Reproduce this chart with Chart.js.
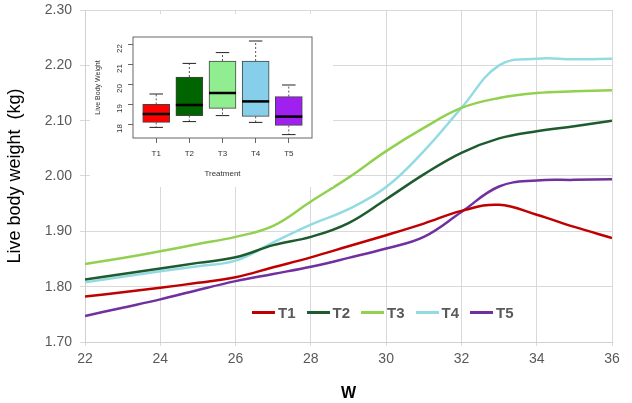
<!DOCTYPE html>
<html lang="en">
<head>
  <meta charset="UTF-8">
  <title>Live body weight by week</title>
  <script src="https://cdn.jsdelivr.net/npm/chart.js"></script>
  <style>
    body {
      margin: 0;
      background: #fff;
      font-family: Arial, "Liberation Sans", sans-serif;
    }
    #wrap {
      position: relative;
      width: 632px;
      height: 403px;
    }
    #inset {
      position: absolute;
      left: 90px;
      top: 14px;
      width: 243px;
      height: 173px;
      background: #fff;
    }
    #legend {
      position: absolute;
      top: 304px;
      left: 252px;
      display: flex;
      gap: 11px;
      font-weight: bold;
      font-size: 15px;
      color: #595959;
    }
    .item { display: flex; align-items: center; }
    .swatch { width: 23px; height: 3px; margin-right: 3px; }
  </style>
</head>
<body>
  <div id="wrap">
    <canvas id="mainChart" width="632" height="403"></canvas>
    <div id="inset"><canvas id="boxChart" width="243" height="173"></canvas></div>
    <div id="legend"></div>
  </div>

  <script>
    // weeks (x axis)
    const weeks = [22, 23, 24, 25, 26, 27, 28, 29, 30, 31, 32, 33, 34, 35, 36];
    const seriesNames = ['T1', 'T2', 'T3', 'T4', 'T5'];
    const t1 = [1.782, 1.790, 1.798, 1.807, 1.817, 1.835, 1.853, 1.873, 1.893, 1.914, 1.937, 1.948, 1.930, 1.908, 1.888];
    const t2 = [1.813, 1.823, 1.833, 1.843, 1.853, 1.875, 1.890, 1.915, 1.958, 2.003, 2.042, 2.068, 2.081, 2.090, 2.100];
    const t3 = [1.841, 1.852, 1.864, 1.877, 1.890, 1.910, 1.954, 1.997, 2.045, 2.087, 2.123, 2.141, 2.150, 2.153, 2.155];
    const t4 = [1.808, 1.818, 1.828, 1.837, 1.847, 1.880, 1.912, 1.940, 1.980, 2.045, 2.123, 2.200, 2.212, 2.211, 2.212];
    const t5 = [1.747, 1.762, 1.777, 1.794, 1.810, 1.823, 1.836, 1.852, 1.869, 1.890, 1.935, 1.981, 1.992, 1.993, 1.994];
    const lineColors = ['#c00000', '#1e5b2e', '#92d050', '#93dbe3', '#7030a0'];

    // inset box plot (Live Body Weight by Treatment)
    const boxLow  = [17.83, 18.12, 18.42, 18.08, 17.47];
    const boxQ1   = [18.08, 18.42, 18.78, 18.38, 17.93];
    const boxMed  = [18.50, 18.95, 19.55, 19.13, 18.37];
    const boxQ3   = [18.98, 20.35, 21.15, 21.15, 19.37];
    const boxHigh = [19.50, 21.03, 21.57, 22.15, 19.95];
    const boxColors = ['#ff0000', '#006400', '#90ee90', '#87ceeb', '#a020f0'];
    const boxTicks = [18, 19, 20, 21, 22];

    const allSeries = [t1, t2, t3, t4, t5];
    const FONT = 'Arial, "Liberation Sans", sans-serif';

    new Chart(document.getElementById('mainChart'), {
      type: 'line',
      data: {
        datasets: allSeries.map((s, i) => ({
          label: seriesNames[i],
          data: s.map((v, j) => ({ x: weeks[j], y: v })),
          borderColor: lineColors[i],
          borderWidth: 2.5,
          pointRadius: 0,
          tension: 0.4,
          fill: false
        }))
      },
      options: {
        responsive: false,
        animation: false,
        layout: { padding: { top: 10, right: 20, bottom: 0, left: 0 } },
        plugins: { legend: { display: false }, tooltip: { enabled: false } },
        scales: {
          x: {
            type: 'linear',
            min: 22,
            max: 36,
            ticks: { stepSize: 2, color: '#595959', font: { size: 14, family: FONT }, padding: 5 },
            grid: { color: '#d9d9d9', tickLength: 4 },
            border: { color: '#d0d0d0' },
            title: { display: true, text: 'W', color: '#000', font: { size: 16, weight: 'bold', family: FONT }, padding: { top: 12, bottom: 0 } },
            afterFit: (s) => { s.height = 61; }
          },
          y: {
            min: 1.7,
            max: 2.3,
            ticks: {
              stepSize: 0.1,
              color: '#595959',
              font: { size: 14, family: FONT },
              padding: 8,
              callback: (v) => v.toFixed(2)
            },
            grid: { color: '#d9d9d9', tickLength: 5 },
            border: { color: '#d0d0d0' },
            title: { display: true, text: 'Live body weight  (kg)', color: '#000', font: { size: 18, family: FONT } },
            afterFit: (s) => { s.width = 85; s.paddingTop = 0; s.paddingBottom = 0; }
          }
        }
      }
    });

    // legend
    const legend = document.getElementById('legend');
    seriesNames.forEach((n, i) => {
      const it = document.createElement('div');
      it.className = 'item';
      it.innerHTML = '<span class="swatch" style="background:' + lineColors[i] + '"></span><span>' + n + '</span>';
      legend.appendChild(it);
    });

    // whiskers, medians and frame for the box plot
    const boxExtras = {
      id: 'boxExtras',
      afterDatasetsDraw(chart) {
        const { ctx, scales: { x, y }, chartArea } = chart;
        const meta = chart.getDatasetMeta(0);
        ctx.save();
        boxMed.forEach((m, i) => {
          const bar = meta.data[i];
          const half = bar.width / 2;
          const cx = x.getPixelForValue(i + 1);
          // dashed whiskers
          ctx.strokeStyle = '#555';
          ctx.lineWidth = 1;
          ctx.setLineDash([2, 2]);
          ctx.beginPath();
          ctx.moveTo(cx, y.getPixelForValue(boxQ3[i]));
          ctx.lineTo(cx, y.getPixelForValue(boxHigh[i]));
          ctx.moveTo(cx, y.getPixelForValue(boxQ1[i]));
          ctx.lineTo(cx, y.getPixelForValue(boxLow[i]));
          ctx.stroke();
          ctx.setLineDash([]);
          // caps
          ctx.strokeStyle = '#222';
          ctx.beginPath();
          [boxHigh[i], boxLow[i]].forEach(v => {
            const py = y.getPixelForValue(v);
            ctx.moveTo(cx - half / 2, py);
            ctx.lineTo(cx + half / 2, py);
          });
          ctx.stroke();
          // median
          ctx.strokeStyle = '#000';
          ctx.lineWidth = 2.5;
          ctx.beginPath();
          const my = y.getPixelForValue(m);
          ctx.moveTo(cx - half, my);
          ctx.lineTo(cx + half, my);
          ctx.stroke();
        });
        ctx.strokeStyle = '#666';
        ctx.lineWidth = 1;
        ctx.strokeRect(chartArea.left, chartArea.top, chartArea.right - chartArea.left, chartArea.bottom - chartArea.top);
        ctx.restore();
      }
    };

    new Chart(document.getElementById('boxChart'), {
      type: 'bar',
      data: {
        datasets: [{
          data: boxQ1.map((q, i) => ({ x: i + 1, y: [q, boxQ3[i]] })),
          backgroundColor: boxColors,
          borderColor: '#444',
          borderWidth: 1,
          borderSkipped: false,
          barThickness: 27
        }]
      },
      options: {
        responsive: false,
        animation: false,
        layout: { padding: { top: 23, right: 21, bottom: 0, left: 0 } },
        plugins: { legend: { display: false }, tooltip: { enabled: false } },
        scales: {
          x: {
            type: 'linear',
            offset: false,
            min: 0.3,
            max: 5.7,
            afterBuildTicks: (s) => { s.ticks = [1, 2, 3, 4, 5].map(v => ({ value: v })); },
            ticks: { color: '#333', font: { size: 8, family: FONT }, padding: 6, callback: (v) => seriesNames[v - 1] },
            grid: { display: true, drawOnChartArea: false, offset: false, color: '#666', tickLength: 5 },
            border: { display: false },
            title: { display: true, text: 'Treatment', color: '#333', font: { size: 8, family: FONT }, padding: { top: 2, bottom: 8 } },
            afterFit: (s) => { s.height = 49; }
          },
          y: {
            min: 17.3,
            max: 22.35,
            afterBuildTicks: (s) => { s.ticks = boxTicks.map(v => ({ value: v })); },
            ticks: { color: '#333', font: { size: 8, family: FONT }, padding: 8, minRotation: 90, maxRotation: 90 },
            grid: { display: true, drawOnChartArea: false, color: '#666', tickLength: 5 },
            border: { display: false },
            title: { display: true, text: 'Live Body Weight', color: '#333', font: { size: 7, family: FONT } },
            afterFit: (s) => { s.width = 43; }
          }
        }
      },
      plugins: [boxExtras]
    });
  </script>
</body>
</html>
